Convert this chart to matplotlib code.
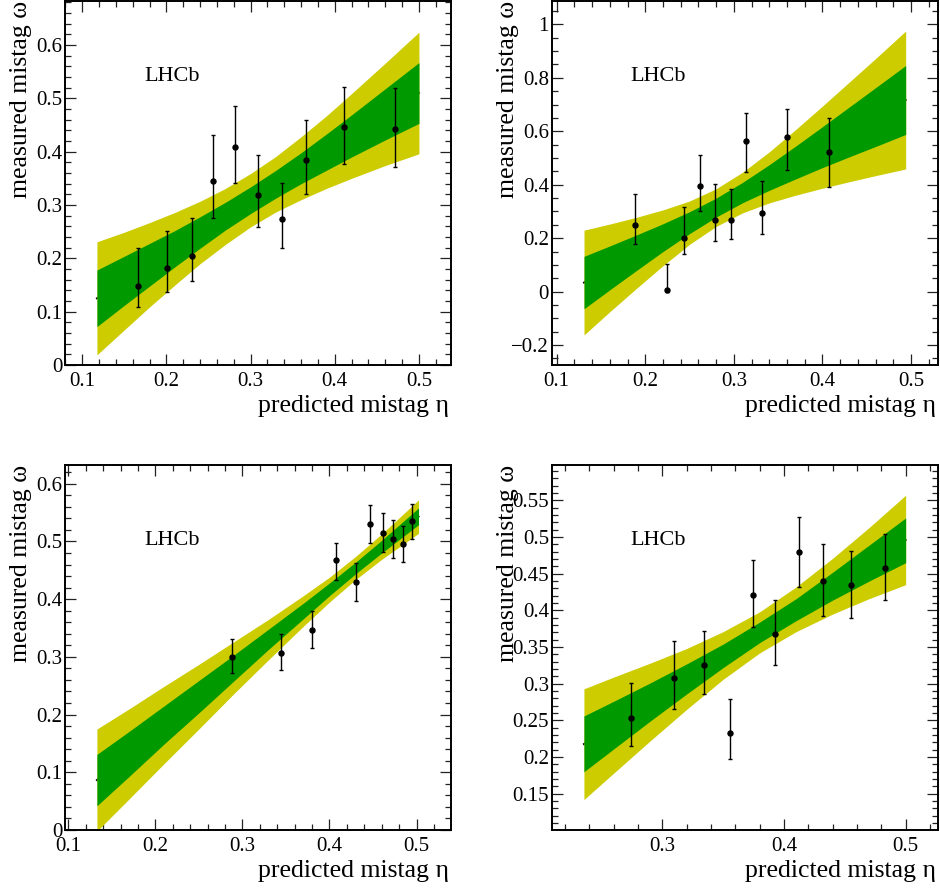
#!/usr/bin/env python3
"""Mistag calibration: measured vs predicted mistag, four categories, LHCb style."""

import matplotlib
matplotlib.use("Agg")
import matplotlib.pyplot as plt
from matplotlib.ticker import MultipleLocator, FuncFormatter

GREEN = "#009900"
YELLOW = "#cccc00"

# ── panel 1 (top left) ──
eta_1 = [0.166, 0.201, 0.230, 0.255, 0.281, 0.309, 0.337, 0.366, 0.411, 0.471]
omega_1 = [0.148, 0.181, 0.205, 0.345, 0.409, 0.319, 0.273, 0.385, 0.446, 0.443]
omega_hi_1 = [0.220, 0.252, 0.275, 0.431, 0.485, 0.394, 0.342, 0.459, 0.521, 0.520]
omega_lo_1 = [0.108, 0.136, 0.158, 0.276, 0.341, 0.258, 0.220, 0.321, 0.376, 0.371]
band_x_1 = [0.1174, 0.15, 0.18, 0.21, 0.24, 0.27, 0.30, 0.33, 0.36, 0.39, 0.42, 0.46, 0.50]
band_2hi_1 = [0.231, 0.249, 0.267, 0.286, 0.307, 0.331, 0.359, 0.391, 0.428, 0.467, 0.509, 0.566, 0.624]
band_1hi_1 = [0.178, 0.204, 0.228, 0.252, 0.278, 0.305, 0.334, 0.365, 0.398, 0.433, 0.469, 0.518, 0.567]
band_1lo_1 = [0.072, 0.112, 0.148, 0.184, 0.219, 0.253, 0.284, 0.313, 0.340, 0.365, 0.390, 0.422, 0.453]
band_2lo_1 = [0.019, 0.066, 0.109, 0.150, 0.190, 0.226, 0.259, 0.287, 0.310, 0.331, 0.350, 0.374, 0.396]
fit_x_1 = [0.1174, 0.50]
fit_y_1 = [0.125, 0.510]

# ── panel 2 (top right) ──
eta_2 = [0.189, 0.225, 0.244, 0.262, 0.279, 0.297, 0.314, 0.332, 0.360, 0.408]
omega_2 = [0.249, 0.005, 0.200, 0.395, 0.269, 0.269, 0.565, 0.294, 0.577, 0.522]
omega_hi_2 = [0.367, 0.103, 0.315, 0.512, 0.403, 0.385, 0.670, 0.415, 0.682, 0.648]
omega_lo_2 = [0.177, 0.000, 0.140, 0.300, 0.188, 0.196, 0.446, 0.214, 0.456, 0.390]
band_x_2 = [0.1309, 0.16, 0.19, 0.22, 0.25, 0.28, 0.31, 0.34, 0.37, 0.40, 0.43, 0.46, 0.494]
band_2hi_2 = [0.230, 0.253, 0.278, 0.306, 0.339, 0.385, 0.447, 0.523, 0.607, 0.694, 0.783, 0.872, 0.975]
band_1hi_2 = [0.132, 0.171, 0.212, 0.254, 0.299, 0.350, 0.409, 0.475, 0.545, 0.617, 0.690, 0.763, 0.846]
band_1lo_2 = [-0.064, 0.007, 0.079, 0.150, 0.217, 0.279, 0.333, 0.379, 0.422, 0.464, 0.504, 0.543, 0.588]
band_2lo_2 = [-0.162, -0.075, 0.012, 0.097, 0.177, 0.244, 0.295, 0.332, 0.361, 0.387, 0.411, 0.434, 0.459]
fit_x_2 = [0.1309, 0.494]
fit_y_2 = [0.034, 0.717]

# ── panel 3 (bottom left) ──
eta_3 = [0.288, 0.344, 0.380, 0.407, 0.430, 0.447, 0.462, 0.473, 0.484, 0.495]
omega_3 = [0.300, 0.307, 0.347, 0.467, 0.429, 0.531, 0.515, 0.505, 0.496, 0.535]
omega_hi_3 = [0.331, 0.339, 0.379, 0.498, 0.462, 0.563, 0.549, 0.538, 0.527, 0.565]
omega_lo_3 = [0.272, 0.277, 0.316, 0.434, 0.397, 0.498, 0.482, 0.472, 0.465, 0.505]
band_x_3 = [0.1329, 0.17, 0.21, 0.25, 0.29, 0.33, 0.37, 0.40, 0.43, 0.46, 0.5023]
band_2hi_3 = [0.175, 0.210, 0.249, 0.287, 0.326, 0.365, 0.406, 0.438, 0.474, 0.513, 0.572]
band_1hi_3 = [0.131, 0.171, 0.215, 0.259, 0.303, 0.348, 0.393, 0.428, 0.464, 0.502, 0.558]
band_1lo_3 = [0.042, 0.093, 0.149, 0.203, 0.258, 0.313, 0.366, 0.406, 0.444, 0.480, 0.529]
band_2lo_3 = [-0.002, 0.054, 0.115, 0.175, 0.236, 0.295, 0.353, 0.395, 0.434, 0.469, 0.514]
fit_x_3 = [0.1329, 0.5023]
fit_y_3 = [0.0866, 0.543]

# ── panel 4 (bottom right) ──
eta_4 = [0.274, 0.310, 0.334, 0.356, 0.3745, 0.393, 0.412, 0.432, 0.455, 0.483]
omega_4 = [0.253, 0.308, 0.3255, 0.233, 0.421, 0.368, 0.480, 0.440, 0.434, 0.458]
omega_hi_4 = [0.301, 0.358, 0.372, 0.279, 0.469, 0.4145, 0.528, 0.4905, 0.4805, 0.5036]
omega_lo_4 = [0.2155, 0.265, 0.2855, 0.197, 0.377, 0.325, 0.432, 0.392, 0.389, 0.4145]
band_x_4 = [0.2356, 0.26, 0.29, 0.32, 0.35, 0.38, 0.41, 0.44, 0.47, 0.50]
band_2hi_4 = [0.293, 0.309, 0.328, 0.348, 0.371, 0.398, 0.432, 0.471, 0.513, 0.557]
band_1hi_4 = [0.256, 0.276, 0.301, 0.327, 0.354, 0.384, 0.416, 0.452, 0.489, 0.526]
band_1lo_4 = [0.180, 0.211, 0.249, 0.286, 0.322, 0.356, 0.386, 0.414, 0.440, 0.465]
band_2lo_4 = [0.142, 0.178, 0.222, 0.265, 0.306, 0.342, 0.371, 0.395, 0.416, 0.435]
fit_x_4 = [0.2356, 0.50]
fit_y_4 = [0.2177, 0.4959]

SERIF = ["Liberation Serif", "DejaVu Serif"]


def _fmt(v, _pos):
    s = f"{v:g}"
    if abs(v) < 1e-9:
        s = "0"
    return s.replace("-", "\u2212")


def draw_panel(ax, eta, om, om_lo, om_hi, bx, b2hi, b1hi, b1lo, b2lo, fx, fy,
               xlim, ylim, xmaj, ymaj, ymin):
    ax.plot(fx, fy, color="k", lw=1.4, solid_capstyle="projecting", zorder=1)
    ax.fill_between(bx, b2lo, b2hi, color=YELLOW, lw=0, zorder=2)
    ax.fill_between(bx, b1lo, b1hi, color=GREEN, lw=0, zorder=3)
    yerr = [[o - l for o, l in zip(om, om_lo)], [h - o for o, h in zip(om, om_hi)]]
    ax.errorbar(eta, om, yerr=yerr, fmt="o", color="k", ms=3.6, elinewidth=1.0,
                capsize=1.3, capthick=1.0, zorder=4)

    ax.set_xlim(*xlim)
    ax.set_ylim(*ylim)
    ax.xaxis.set_major_locator(MultipleLocator(xmaj))
    ax.xaxis.set_minor_locator(MultipleLocator(0.02))
    ax.yaxis.set_major_locator(MultipleLocator(ymaj))
    ax.yaxis.set_minor_locator(MultipleLocator(ymin))
    ax.xaxis.set_major_formatter(FuncFormatter(_fmt))
    ax.yaxis.set_major_formatter(FuncFormatter(_fmt))
    ax.tick_params(which="both", direction="in", top=True, right=True,
                   width=0.9, colors="#222222", labelcolor="k")
    ax.tick_params(which="major", length=8, labelsize=15)
    ax.tick_params(which="minor", length=4)
    ax.tick_params(axis="x", which="major", pad=5)
    ax.tick_params(axis="y", which="major", pad=2)
    for lab in ax.get_xticklabels() + ax.get_yticklabels():
        lab.set_family(SERIF)
    for sp in ax.spines.values():
        sp.set_linewidth(1.4)

    ax.text(0.205, 0.78, "LHCb", transform=ax.transAxes, fontsize=16,
            family=SERIF, ha="left", va="baseline")
    ax.text(0.995, -0.13, "predicted mistag \u03b7", transform=ax.transAxes,
            fontsize=18.5, family=SERIF, ha="right", va="baseline")
    ax.text(-0.114, 1.0, "measured mistag \u03c9", transform=ax.transAxes,
            fontsize=18.5, family=SERIF, rotation=90, ha="center", va="top")


fig = plt.figure(figsize=(9.4, 8.9), dpi=100)
ax1 = fig.add_axes([0.0691, 0.5899, 0.4106, 0.4090])
ax2 = fig.add_axes([0.5869, 0.5899, 0.4106, 0.4090])
ax3 = fig.add_axes([0.0691, 0.0674, 0.4106, 0.4101])
ax4 = fig.add_axes([0.5869, 0.0674, 0.4106, 0.4101])

draw_panel(ax1, eta_1, omega_1, omega_lo_1, omega_hi_1, band_x_1, band_2hi_1, band_1hi_1,
           band_1lo_1, band_2lo_1, fit_x_1, fit_y_1,
           (0.0794, 0.538), (0.0, 0.6825), 0.1, 0.1, 0.02)
draw_panel(ax2, eta_2, omega_2, omega_lo_2, omega_hi_2, band_x_2, band_2hi_2, band_1hi_2,
           band_1lo_2, band_2lo_2, fit_x_2, fit_y_2,
           (0.0944, 0.5301), (-0.2743, 1.0874), 0.1, 0.2, 0.05)
draw_panel(ax3, eta_3, omega_3, omega_lo_3, omega_hi_3, band_x_3, band_2hi_3, band_1hi_3,
           band_1lo_3, band_2lo_3, fit_x_3, fit_y_3,
           (0.0962, 0.5395), (0.0, 0.6324), 0.1, 0.1, 0.02)
draw_panel(ax4, eta_4, omega_4, omega_lo_4, omega_hi_4, band_x_4, band_2hi_4, band_1hi_4,
           band_1lo_4, band_2lo_4, fit_x_4, fit_y_4,
           (0.2091, 0.5263), (0.1005, 0.5982), 0.1, 0.05, 0.01)

fig.savefig("out.png", dpi=100)
plt.close(fig)
